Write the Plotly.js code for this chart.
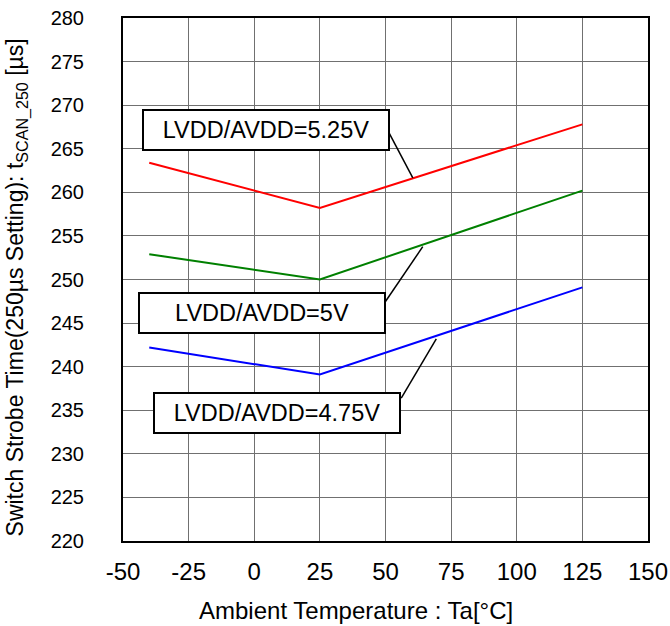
<!DOCTYPE html>
<html>
<head>
<meta charset="utf-8">
<script src="https://cdn.plot.ly/plotly-3.0.1.min.js"></script>
<style>html,body{margin:0;padding:0;background:#fff;}#chart{width:670px;height:626px;}</style>
</head>
<body>
<div id="chart"></div>
<script>
// Data
const temperature = [-40, 25, 125];
const v525 = [263.4, 258.2, 267.8];
const v500 = [252.9, 250.0, 260.2];
const v475 = [242.2, 239.1, 249.1];
const seriesNames = ['LVDD/AVDD=5.25V', 'LVDD/AVDD=5V', 'LVDD/AVDD=4.75V'];
const seriesColors = ['#ff0000', '#008000', '#0000ff'];
const xTicks = [-50, -25, 0, 25, 50, 75, 100, 125, 150];
const yTicks = [220, 225, 230, 235, 240, 245, 250, 255, 260, 265, 270, 275, 280];
const xTitle = 'Ambient Temperature : Ta[°C]';
const yTitle = 'Switch Strobe Time(250µs Setting): t<sub>SCAN_250</sub> [µs]';
// label boxes (centre, data coords) and leader lines
const labelX = [4.5, 2.8, 8.6];
const labelY = [267.2, 246.2, 234.7];
const leaderFromX = [51.2, 49.6, 56.0];
const leaderFromY = [266.9, 247.3, 236.4];
const leaderToX = [60.4, 64.2, 69.35];
const leaderToY = [261.65, 253.77, 243.19];

const font = 'Liberation Sans, Arial, sans-serif';
const ys = [v525, v500, v475];
const traces = ys.map((y, i) => ({
  x: temperature, y: y, type: 'scatter', mode: 'lines',
  name: seriesNames[i], line: {color: seriesColors[i], width: 2}
}));

const annotations = seriesNames.map((t, i) => ({
  x: labelX[i], y: labelY[i], xref: 'x', yref: 'y', text: t, showarrow: false,
  font: {family: font, size: 23.5, color: '#000'},
  bgcolor: '#fff', bordercolor: '#000', borderwidth: 2, borderpad: 0,
  width: 244, height: 38, xanchor: 'center', yanchor: 'middle'
}));
annotations.push({
  xref: 'paper', yref: 'paper', x: 0.444, y: -0.132, xanchor: 'center', yanchor: 'middle',
  text: xTitle, showarrow: false, font: {family: font, size: 24, color: '#000'}
});
annotations.push({
  xref: 'paper', yref: 'paper', x: -0.202, y: 0.4847, xanchor: 'center', yanchor: 'middle',
  textangle: -90, text: yTitle, showarrow: false, font: {family: font, size: 23, color: '#000'}
});
const shapes = seriesNames.map((t, i) => ({
  type: 'line', xref: 'x', yref: 'y',
  x0: leaderFromX[i], y0: leaderFromY[i], x1: leaderToX[i], y1: leaderToY[i],
  line: {color: '#000', width: 1.5}
}));

const layout = {
  width: 670, height: 626,
  margin: {l: 123, r: 22, t: 18, b: 85},
  paper_bgcolor: '#fff', plot_bgcolor: '#fff',
  showlegend: false,
  font: {family: font, color: '#000'},
  xaxis: {
    range: [-50, 150], tickvals: xTicks, ticktext: xTicks.map(String),
    showgrid: true, gridcolor: '#707070', gridwidth: 1,
    showline: true, linecolor: '#000', linewidth: 2, mirror: true,
    zeroline: false, ticks: '', ticklabelstandoff: 8,
    tickfont: {family: font, size: 24, color: '#000'}
  },
  yaxis: {
    range: [220, 280], tickvals: yTicks, ticktext: yTicks.map(String),
    showgrid: true, gridcolor: '#707070', gridwidth: 1,
    showline: true, linecolor: '#000', linewidth: 2, mirror: true,
    zeroline: false, ticks: '', ticklabelstandoff: 33,
    tickfont: {family: font, size: 20, color: '#000'}
  },
  annotations: annotations,
  shapes: shapes
};
Plotly.newPlot('chart', traces, layout, {staticPlot: true, displayModeBar: false});
</script>
</body>
</html>
